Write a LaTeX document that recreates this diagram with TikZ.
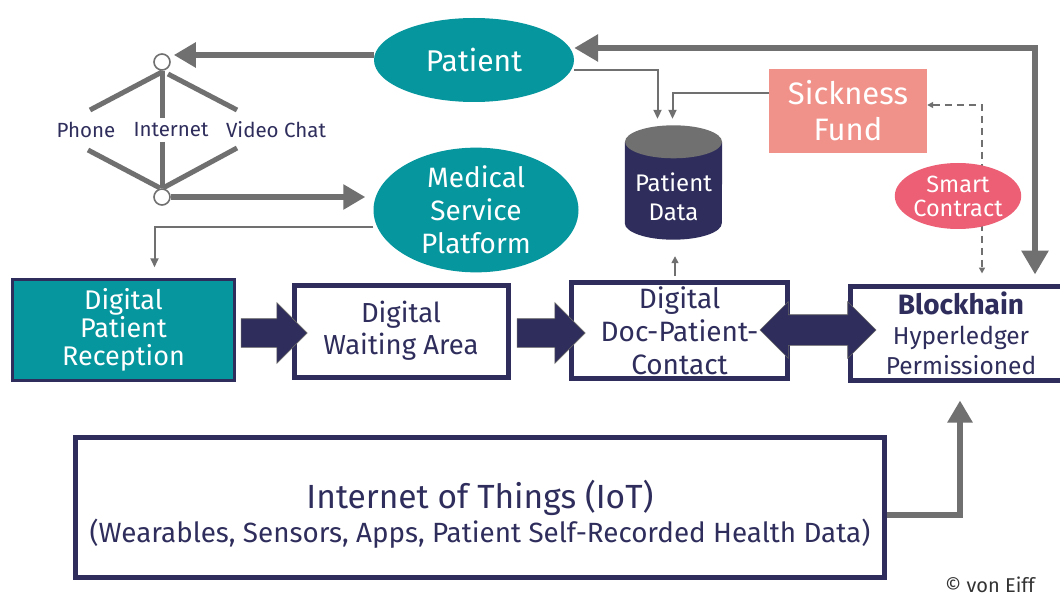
\documentclass[tikz,border=0pt]{standalone}
\usepackage{fontspec}
\setmainfont{Fira Sans}
\usepackage{tikz}
\usetikzlibrary{arrows.meta,shapes.geometric,shapes.arrows,positioning}
\definecolor{teal}{HTML}{06969D}
\definecolor{navy}{HTML}{2E2D5C}
\definecolor{grey}{HTML}{707070}
\definecolor{salmon}{HTML}{F1928A}
\definecolor{rose}{HTML}{EC5F75}

\begin{document}
\begin{tikzpicture}[x=1pt,y=-1pt,
    bubble/.style={ellipse,fill=teal,text=white,inner sep=0pt,align=center},
    stage/.style={rectangle,draw=navy,line width=5pt,fill=white,text=navy,align=center,
      font=\fontsize{27}{31}\selectfont},
    hub/.style={circle,draw=grey,line width=1.6pt,fill=white,minimum size=16pt,inner sep=0pt},
    way/.style={text=navy,font=\fontsize{20.5}{22}\selectfont},
    spoke/.style={draw=grey,line width=5pt},
    fat/.style={draw=grey,line width=5.5pt,-{Triangle[length=22pt,width=24pt]}},
    thin/.style={draw=grey,line width=2pt,-{Triangle[length=9pt,width=8pt]}},
    blockarr/.style={single arrow,fill=navy,draw=black!60,line width=0.6pt,inner xsep=0pt,
      inner ysep=14pt,minimum width=60pt,single arrow head extend=16pt},
  ]
  \useasboundingbox[fill=white] (0,0) rectangle (1060,596);

  % top: patient and the platform
  \node[bubble,minimum width=200pt,minimum height=84pt,font=\fontsize{30}{30}\selectfont]
    (patient) at (474,60) {Patient};
  \node[bubble,minimum width=205pt,minimum height=107pt,font=\fontsize{28}{33}\selectfont]
    (platform) at (476,210) {Medical\\Service\\Platform};

  \node[hub] (hubtop) at (162,62) {};
  \node[hub] (hubbot) at (162,197) {};
  \node[way] (phone) at (86,130) {Phone};
  \node[way] (internet) at (171,130) {Internet};
  \node[way] (video) at (276,130) {Video Chat};

  \coordinate (ptop) at (90,110);
  \coordinate (itop) at (162,118);
  \coordinate (vtop) at (237,110);
  \coordinate (pbot) at (88,150);
  \coordinate (ibot) at (162,142);
  \coordinate (vbot) at (237,148);
  \draw[spoke] (162,72) -- (ptop);
  \draw[spoke] (hubtop.south) -- (itop);
  \draw[spoke] (168,74) -- (vtop);
  \draw[spoke] (pbot) -- (160,188);
  \draw[spoke] (ibot) -- (hubbot.north);
  \draw[spoke] (vbot) -- (163,188);

  % stores and payers
  \node[minimum width=97pt,minimum height=115pt,inner sep=0pt] (data) at (673.5,182.5) {};
  \fill[navy] ([yshift=-17pt]data.north west) -- ([yshift=17pt]data.south west)
    arc[start angle=180,end angle=0,x radius=48.5,y radius=16.5] -- ([yshift=-17pt]data.north east) -- cycle;
  \fill[grey] ([yshift=-17pt]data.north) ellipse[x radius=48.5,y radius=16.5];
  \node[text=white,align=center,font=\fontsize{24}{29}\selectfont] (datatext)
    at ([yshift=-14pt]data.center) {Patient\\Data};
  \node[rectangle,fill=salmon,text=white,align=center,minimum width=158pt,minimum height=84pt,
    font=\fontsize{31}{36}\selectfont] (fund) at (848,111) {Sickness\\Fund};

  % the chain of stages
  \node[stage,fill=teal,text=white,line width=2.5pt,minimum width=222pt,minimum height=101pt,
    font=\fontsize{27}{28}\selectfont] (reception) at (123.5,330) {Digital\\Patient\\Reception};
  \node[stage,minimum width=214pt,minimum height=92pt,font=\fontsize{27.5}{32}\selectfont]
    (waiting) at (401,331) {Digital\\Waiting Area};
  \node[stage,minimum width=216pt,minimum height=96pt,font=\fontsize{28}{33}\selectfont]
    (contact) at (679.5,330.5) {Digital\\Doc-Patient-\\Contact};
  \node[stage,minimum width=222pt,minimum height=94pt,font=\fontsize{24.5}{30}\selectfont]
    (chain) at (961,333) {{\fontsize{28}{30}\selectfont\bfseries Blockhain}\\Hyperledger\\Permissioned};

  \node[stage,minimum width=809pt,minimum height=140pt] (iot) at (480,507.5) {};
  \node[text=navy,align=center,font=\fontsize{33.5}{38}\selectfont] (iottext) at ([yshift=-7pt]iot.center)
    {Internet of Things (IoT)\\[-4pt]{\fontsize{27.8}{30}\selectfont (Wearables, Sensors, Apps, Patient Self-Recorded Health Data)}};

  % block arrows between the stages
  \node[blockarr,minimum height=66pt] (ra) at (267,333) {};
  \node[blockarr,minimum height=68pt] (wa) at (544,333) {};
  \node[double arrow,fill=navy,draw=black!60,line width=0.6pt,inner xsep=0pt,inner ysep=15pt,
    minimum width=56pt,double arrow head extend=13pt,minimum height=116pt] (ca) at (818,330) {};

  % connectors
  \draw[fat] ([yshift=5pt]patient.west) -- ([xshift=3pt,yshift=7pt]hubtop.east);
  \draw[fat] (hubbot.east) -- ([xshift=-8pt,yshift=13pt]platform.west);
  \draw[thin] ([yshift=-17pt]platform.west) -| ([xshift=31pt]reception.north) [shorten >=11pt];
  \draw[thin] ([yshift=-10pt]patient.east) -| ([xshift=-16pt]data.north) [shorten >=6pt];
  \draw[thin] ([yshift=18pt]fund.west) -| ([xshift=-1pt]data.north) [shorten >=6pt];
  \draw[draw=grey,line width=1.5pt,-{Triangle[length=7pt,width=7pt]},shorten <=4pt,shorten >=16pt]
    ([xshift=1.5pt]data.south |- contact.north) -- ([xshift=1.5pt]data.south);
  \draw[draw=grey,line width=6pt,{Triangle[length=24pt,width=26pt]}-{Triangle[length=24pt,width=26pt]},
    shorten <=-24pt,shorten >=9pt] ([xshift=24pt,yshift=12pt]patient.east) -| ([xshift=74pt]chain.north);
  \draw[draw=grey,line width=1.5pt,dash pattern=on 7pt off 5pt,
    {Triangle[length=6pt,width=6pt]}-{Triangle[length=6pt,width=6pt]},
    shorten >=10pt] ([yshift=6pt]fund.east) -| ([xshift=21pt]chain.north);
  \draw[fat] ([yshift=-7.5pt]iot.east) -| ([xshift=-1pt]chain.south) [shorten >=18pt];

  \node[ellipse,fill=rose,text=white,inner sep=0pt,align=center,minimum width=126pt,minimum height=66pt,
    font=\fontsize{23.5}{24}\selectfont] (smart) at (958,196) {Smart\\Contract};

  \node[text=black!80,font=\fontsize{20}{22}\selectfont] (credit) at (990,585) {© von Eiff};
\end{tikzpicture}
\end{document}
